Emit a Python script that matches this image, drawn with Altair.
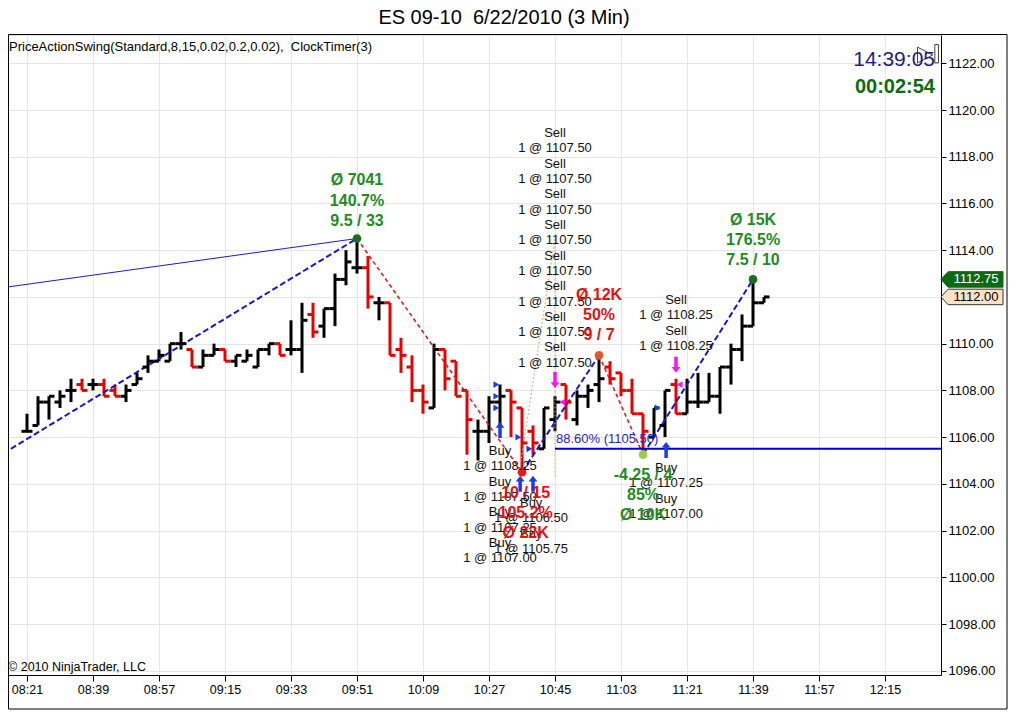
import altair as alt
import pandas as pd

# ---------------- data (3-minute OHLC bars, ES 09-10, 6/22/2010) ----------------
first_bar = 501  # 08:21 expressed as minutes after midnight
opens = [1106.25, 1106.5, 1107.5, 1107.5, 1108.0, 1108.25, 1108.25, 1108.25, 1108.0, 1107.75,
         1108.25, 1109.0, 1109.25, 1109.25, 1110.0, 1109.75, 1109.0, 1109.5, 1109.75, 1109.25,
         1109.25, 1109.0, 1109.75, 1110.0, 1109.75, 1109.75, 1111.25, 1110.75, 1111.5, 1112.75,
         1113.25, 1113.25, 1111.75, 1111.75, 1109.75, 1109.0, 1108.0, 1107.25, 1109.75, 1109.25,
         1108.0, 1106.25, 1106.25, 1107.5, 1108.0, 1107.25, 1106.25, 1105.5, 1106.75, 1108.25,
         1106.75, 1107.75, 1108.25, 1109.0, 1108.75, 1108.0, 1107.0, 1106.0, 1106.5, 1108.25,
         1107.0, 1107.5, 1107.5, 1107.75, 1109.0, 1109.75, 1110.75, 1111.75]
highs = [1107.0, 1107.75, 1107.75, 1108.0, 1108.5, 1108.5, 1108.5, 1108.5, 1108.25, 1108.25,
         1108.75, 1109.5, 1109.75, 1110.0, 1110.5, 1109.75, 1109.75, 1110.0, 1109.75, 1109.5,
         1109.75, 1109.75, 1110.0, 1110.0, 1111.0, 1111.75, 1111.75, 1111.5, 1113.0, 1114.0,
         1114.5, 1113.75, 1112.0, 1111.75, 1110.25, 1109.5, 1108.25, 1110.0, 1109.75, 1109.25,
         1108.0, 1106.75, 1107.75, 1108.25, 1108.0, 1107.25, 1106.5, 1107.25, 1107.75, 1108.25,
         1108.0, 1108.25, 1109.5, 1109.25, 1108.75, 1108.5, 1107.0, 1107.25, 1108.0, 1108.5,
         1108.5, 1108.75, 1108.75, 1109.0, 1110.0, 1111.25, 1112.75, 1112.0]
lows = [1106.25, 1106.5, 1106.75, 1107.25, 1107.5, 1108.0, 1108.0, 1107.75, 1107.75, 1107.5,
        1108.25, 1108.75, 1109.25, 1109.25, 1109.75, 1109.0, 1109.0, 1109.5, 1109.25, 1109.0,
        1109.25, 1109.0, 1109.5, 1109.5, 1109.5, 1108.75, 1110.25, 1110.25, 1110.75, 1112.5,
        1113.0, 1111.5, 1111.0, 1109.5, 1108.75, 1107.5, 1107.0, 1107.25, 1108.0, 1107.75,
        1105.25, 1105.0, 1105.75, 1106.5, 1106.0, 1104.5, 1105.25, 1105.5, 1106.25, 1106.75,
        1106.5, 1107.25, 1107.5, 1108.25, 1107.75, 1107.0, 1105.25, 1106.0, 1106.0, 1107.0,
        1107.0, 1107.25, 1107.5, 1107.0, 1108.25, 1109.25, 1110.75, 1111.75]
closes = [1106.25, 1107.5, 1107.75, 1107.75, 1108.0, 1108.0, 1108.25, 1107.75, 1107.75, 1108.0,
          1108.5, 1109.25, 1109.5, 1110.0, 1110.0, 1109.0, 1109.5, 1109.75, 1109.25, 1109.5,
          1109.5, 1109.75, 1110.0, 1109.5, 1109.75, 1111.0, 1110.5, 1111.5, 1112.75, 1113.5,
          1113.25, 1112.0, 1111.75, 1109.5, 1109.5, 1108.0, 1107.5, 1109.75, 1108.5, 1107.75,
          1106.75, 1106.25, 1107.5, 1107.75, 1107.5, 1105.75, 1105.75, 1107.25, 1107.5, 1107.5,
          1107.75, 1108.0, 1108.5, 1108.5, 1108.0, 1107.0, 1106.25, 1107.25, 1108.0, 1107.0,
          1107.5, 1107.5, 1107.75, 1109.0, 1109.75, 1110.75, 1111.75, 1112.0]
bar_times = [first_bar + 3 * i for i in range(len(opens))]

# swing points (time in minutes, price)
swing_t = [591, 636, 657, 669, 699]
swing_p = [1114.5, 1104.5, 1109.5, 1105.25, 1112.75]
swing_col = ["#1b6e1b", "#e41b1b", "#e2582e", "#9ccc55", "#1b6e1b"]

# swing legs (segments) : start/end
blue_legs = [[(494.5, 1105.3), (591, 1114.5)], [(636, 1104.5), (657, 1109.5)], [(669, 1105.25), (699, 1112.75)]]
red_legs = [[(591, 1114.5), (636, 1104.5)], [(657, 1109.5), (669, 1105.25)]]
trend_leg = [(494.5, 1112.4), (591, 1114.5)]
trade_lines = [[(635.5, 1104.75), (645, 1114.5)], [(645, 1114.5), (645, 1104.25)]]
level_price = 1105.5
level_start = 645
level_end = 752

# swing statistics labels: time, top price, lines, colour
swing_labels = [
    (591, 1117.0, ["Ø 7041", "140.7%", "9.5 / 33"], "#228b22", 0.878),
    (637, 1103.61, ["10 / 15", "105.2%", "Ø 22K"], "#e81010", 0.856),
    (657, 1112.08, ["Ø 12K", "50%", "9 / 7"], "#e81010", 0.856),
    (669, 1104.38, ["-4.25 / 4", "85%", "Ø 10K"], "#228b22", 0.856),
    (699, 1115.29, ["Ø 15K", "176.5%", "7.5 / 10"], "#228b22", 0.856),
]
# order labels
trade_labels = [
    (645, 1119.02, ["Sell", "1 @ 1107.50"] * 8),
    (678, 1111.87, ["Sell", "1 @ 1108.25"] * 2),
    (630, 1105.40, ["Buy", "1 @ 1108.25", "Buy", "1 @ 1107.50", "Buy", "1 @ 1107.25", "Buy", "1 @ 1107.00"]),
    (638.5, 1103.18, ["Buy", "1 @ 1106.50", "Buy", "1 @ 1105.75"]),
    (675.3, 1104.68, ["Buy", "1 @ 1107.25", "Buy", "1 @ 1107.00"]),
]
LINE_STEP = 0.656

buy_fill_t = [629, 629, 629, 635, 638, 673]
buy_fill_p = [1108.25, 1107.75, 1107.25, 1106.0, 1105.5, 1107.25]
sell_fill_t = [647, 679]
sell_fill_p = [1107.5, 1108.25]
up_arrow_t = [630, 635.5, 639, 675.3]
up_arrow_p = [1106.3, 1104.0, 1104.0, 1105.45]
down_arrow_t = [645, 678]
down_arrow_p = [1108.45, 1109.1]

last_high = 1112.75
last_close = 1112.00

x_ticks = [501 + 18 * i for i in range(14)]
y_ticks = [1096 + 2 * i for i in range(14)]

# ---------------- build tables ----------------
bars = pd.DataFrame({"t": bar_times, "o": opens, "h": highs, "l": lows, "c": closes})
bars["dir"] = ["down" if c < o else "up" for o, c in zip(opens, closes)]


def seg_df(legs):
    rows = []
    for i, leg in enumerate(legs):
        for j, (t, p) in enumerate(leg):
            rows.append({"seg": i, "ord": j, "t": t, "p": p})
    return pd.DataFrame(rows)


blue_df = seg_df(blue_legs)
red_df = seg_df(red_legs)
trend_df = seg_df([trend_leg])
trade_df = seg_df(trade_lines)
level_df = pd.DataFrame({"t": [level_start], "t2": [level_end], "p": [level_price]})

swing_df = pd.DataFrame({"t": swing_t, "p": swing_p, "col": swing_col})

sl_rows = []
for t, p, lines, col, step in swing_labels:
    for i, s in enumerate(lines):
        sl_rows.append({"t": t, "p": p - i * step, "text": s, "col": col})
swing_lab_df = pd.DataFrame(sl_rows)

tl_rows = []
for t, p, lines in trade_labels:
    for i, s in enumerate(lines):
        tl_rows.append({"t": t, "p": p - i * LINE_STEP, "text": s})
trade_lab_df = pd.DataFrame(tl_rows)

buy_fill_df = pd.DataFrame({"t": buy_fill_t, "p": buy_fill_p})
sell_fill_df = pd.DataFrame({"t": sell_fill_t, "p": sell_fill_p})
up_df = pd.DataFrame({"t": up_arrow_t, "p": up_arrow_p})
down_df = pd.DataFrame({"t": down_arrow_t, "p": down_arrow_p})
tags_df = pd.DataFrame({"p": [last_high, last_close], "text": ["1112.75", "1112.00"],
                        "fill": ["#0b6a12", "#fde3c4"], "tc": ["#ffffff", "#000000"],
                        "sc": ["#0b6a12", "#333333"]})

# ---------------- scales & axes ----------------
FONT = "Liberation Sans"
xs = alt.Scale(domain=[495.82, 750.27], nice=False, zero=False)
ys = alt.Scale(domain=[1095.82, 1123.21], nice=False, zero=False)
label_expr = ("(datum.value < 600 ? '0' : '') + floor(datum.value/60) + ':' + "
              "(datum.value % 60 < 10 ? '0' : '') + (datum.value % 60)")
x_axis = alt.Axis(values=x_ticks, labelExpr=label_expr, title=None, grid=True,
                  gridColor="#e6e6e6", tickColor="black", tickSize=6, domainColor="black",
                  labelColor="black", labelFontSize=12.5, labelFont=FONT, labelPadding=2,
                  labelFlush=False, labelOverlap=False)
y_axis = alt.Axis(values=y_ticks, format=".2f", orient="right", title=None, grid=True,
                  gridColor="#e6e6e6", tickColor="black", tickSize=5, domainColor="black",
                  labelColor="black", labelFontSize=13, labelFont=FONT, labelPadding=2,
                  labelFlush=False, labelOverlap=False)


def X(field="t"):
    return alt.X(f"{field}:Q", scale=xs, axis=x_axis, title=None)


def Y(field="p"):
    return alt.Y(f"{field}:Q", scale=ys, axis=y_axis, title=None)


BW = 3
bar_color = alt.Color("dir:N", scale=alt.Scale(domain=["up", "down"], range=["#000000", "#e60000"]), legend=None)

base_bars = alt.Chart(bars)
bar_hl = base_bars.mark_rule(strokeWidth=BW).encode(x=X("t"), y=Y("l"), y2="h:Q", color=bar_color)
bar_open = base_bars.transform_calculate(t1="datum.t - 1.5").mark_rule(strokeWidth=BW).encode(
    x=X("t1"), x2="t:Q", y=Y("o"), color=bar_color)
bar_close = base_bars.transform_calculate(t2="datum.t + 1.5").mark_rule(strokeWidth=BW).encode(
    x=X("t"), x2="t2:Q", y=Y("c"), color=bar_color)

trend = alt.Chart(trend_df).mark_line(color="#1a1ad0", strokeWidth=1, clip=True).encode(
    x=X(), y=Y(), detail="seg:N", order="ord:Q")
blue_lines = alt.Chart(blue_df).mark_line(color="#1616cc", strokeWidth=2, strokeDash=[6, 3], clip=True).encode(
    x=X(), y=Y(), detail="seg:N", order="ord:Q")
red_lines = alt.Chart(red_df).mark_line(color="#e02020", strokeWidth=1.6, strokeDash=[4, 3], clip=True).encode(
    x=X(), y=Y(), detail="seg:N", order="ord:Q")
trade_ln = alt.Chart(trade_df).mark_line(color="#f0a070", strokeWidth=1, strokeDash=[2, 2], clip=True).encode(
    x=X(), y=Y(), detail="seg:N", order="ord:Q")
level = alt.Chart(level_df).mark_rule(color="#0000cc", strokeWidth=2, clip=True).encode(
    x=X(), x2="t2:Q", y=Y())
level_text = alt.Chart(level_df).transform_calculate(
    lp="datum.p + 0.42", lt="'88.60% (' + format(datum.p, '.2f') + ')'"
).mark_text(align="left", baseline="middle", font=FONT, fontSize=13, color="#2424c8", dx=1).encode(
    x=X(), y=Y("lp"), text="lt:N")

dots = alt.Chart(swing_df).mark_point(filled=True, size=75, opacity=1).encode(
    x=X(), y=Y(), color=alt.Color("col:N", scale=None))

up_path = "M0,-1L0.55,-0.3L0.22,-0.3L0.22,1L-0.22,1L-0.22,-0.3L-0.55,-0.3Z"
down_path = "M0,1L0.55,0.3L0.22,0.3L0.22,-1L-0.22,-1L-0.22,0.3L-0.55,0.3Z"
up_arrows = alt.Chart(up_df).mark_point(shape=up_path, filled=True, size=256, opacity=1, color="#1a3fe0").encode(
    x=X(), y=Y())
down_arrows = alt.Chart(down_df).mark_point(shape=down_path, filled=True, size=256, opacity=1, color="#ff10ff").encode(
    x=X(), y=Y())
buy_fills = alt.Chart(buy_fill_df).mark_point(shape="triangle-right", filled=True, size=45, opacity=1,
                                              color="#1a3fe0").encode(x=X(), y=Y())
sell_fills = alt.Chart(sell_fill_df).mark_point(shape="triangle-left", filled=True, size=45, opacity=1,
                                                color="#ff10ff").encode(x=X(), y=Y())

trade_text = alt.Chart(trade_lab_df).mark_text(align="center", baseline="middle", font=FONT,
                                               fontSize=13, color="#111111").encode(
    x=X(), y=Y(), text="text:N")
swing_text = alt.Chart(swing_lab_df).mark_text(align="center", baseline="middle", font=FONT,
                                               fontSize=16, fontWeight="bold").encode(
    x=X(), y=Y(), text="text:N", color=alt.Color("col:N", scale=None))

tag_path = "M-1,0L-0.77,-0.25L1,-0.25L1,0.25L-0.77,0.25Z"
tags = alt.Chart(tags_df).mark_point(shape=tag_path, filled=True, size=3844, opacity=1, strokeWidth=1).encode(
    x=alt.value(964), y=Y(), fill=alt.Fill("fill:N", scale=None), stroke=alt.Stroke("sc:N", scale=None))
tag_text = alt.Chart(tags_df).mark_text(align="center", baseline="middle", font=FONT, fontSize=13).encode(
    x=alt.value(968), y=Y(), text="text:N", color=alt.Color("tc:N", scale=None))

one = pd.DataFrame({"a": [0]})
frame = alt.Chart(one).mark_rect(fillOpacity=0, stroke="black", strokeWidth=1).encode(
    x=alt.value(0.5), x2=alt.value(999), y=alt.value(-0.5), y2=alt.value(674))
icon_path = "M-1,-0.75L0.45,0L-1,0.75Z M0.65,-1L1,-1L1,0.75L0.65,0.75Z"
icon = alt.Chart(one).mark_point(shape=icon_path, filled=False, size=440, opacity=1, stroke="#444444",
                                 strokeWidth=1).encode(x=alt.value(920), y=alt.value(20))
title_txt = alt.Chart(one).mark_text(text="ES 09-10\u00a0 6/22/2010 (3 Min)", font=FONT, fontSize=20,
                                     align="center", baseline="middle", color="black").encode(
    x=alt.value(496), y=alt.value(-17))
ind_txt = alt.Chart(one).mark_text(text="PriceActionSwing(Standard,8,15,0.02,0.2,0.02),\u00a0 ClockTimer(3)",
                                   font=FONT, fontSize=13, align="left", baseline="middle",
                                   color="black").encode(x=alt.value(1), y=alt.value(12))
clock1 = alt.Chart(one).mark_text(text="14:39:05", font=FONT, fontSize=21, align="right", baseline="middle",
                                  color="#1c1c84").encode(x=alt.value(927), y=alt.value(25))
clock2 = alt.Chart(one).mark_text(text="00:02:54", font=FONT, fontSize=20, fontWeight="bold", align="right",
                                  baseline="middle", color="#0d6b0d").encode(x=alt.value(927), y=alt.value(52))
copy_txt = alt.Chart(one).mark_text(text="© 2010 NinjaTrader, LLC", font=FONT, fontSize=12.5, align="left",
                                    baseline="middle", color="black").encode(x=alt.value(0), y=alt.value(632))

chart = alt.layer(
    bar_hl, trend, blue_lines, red_lines, trade_ln, level, bar_open, bar_close,
    up_arrows, down_arrows, buy_fills, sell_fills, dots,
    trade_text, level_text, swing_text, tags, tag_text,
    frame, icon, title_txt, ind_txt, clock1, clock2, copy_txt,
).properties(
    width=933, height=640,
    autosize=alt.AutoSizeParams(type="none"),
    padding={"left": 0, "top": 27, "right": 67, "bottom": 36},
).configure_view(stroke="black", strokeWidth=1).configure(background="white", font=FONT)

chart.save("out.html", embed_options={"renderer": "svg", "actions": False})
